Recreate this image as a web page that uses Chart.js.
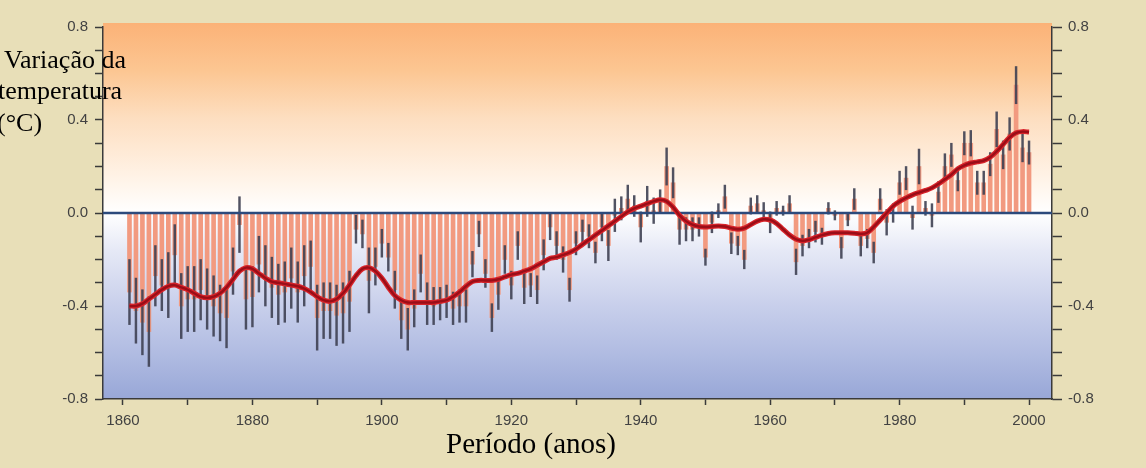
<!DOCTYPE html>
<html>
<head>
<meta charset="utf-8">
<script src="https://cdn.jsdelivr.net/npm/chart.js@4.4.0/dist/chart.umd.min.js"></script>
<style>
html,body{margin:0;padding:0;background:#e8dfb8;}
#wrap{position:relative;width:1146px;height:468px;}
</style>
</head>
<body>
<div id="wrap"><canvas id="c" width="1146" height="468"></canvas></div>
<script>
// ---------- DATA ----------
const years = [
 1861,1862,1863,1864,1865,1866,1867,1868,1869,1870,
 1871,1872,1873,1874,1875,1876,1877,1878,1879,1880,
 1881,1882,1883,1884,1885,1886,1887,1888,1889,1890,
 1891,1892,1893,1894,1895,1896,1897,1898,1899,1900,
 1901,1902,1903,1904,1905,1906,1907,1908,1909,1910,
 1911,1912,1913,1914,1915,1916,1917,1918,1919,1920,
 1921,1922,1923,1924,1925,1926,1927,1928,1929,1930,
 1931,1932,1933,1934,1935,1936,1937,1938,1939,1940,
 1941,1942,1943,1944,1945,1946,1947,1948,1949,1950,
 1951,1952,1953,1954,1955,1956,1957,1958,1959,1960,
 1961,1962,1963,1964,1965,1966,1967,1968,1969,1970,
 1971,1972,1973,1974,1975,1976,1977,1978,1979,1980,
 1981,1982,1983,1984,1985,1986,1987,1988,1989,1990,
 1991,1992,1993,1994,1995,1996,1997,1998,1999,2000
];
const anomalies = [
 -0.34,-0.42,-0.47,-0.51,-0.27,-0.31,-0.31,-0.18,-0.40,-0.37,
 -0.37,-0.33,-0.37,-0.40,-0.43,-0.45,-0.25,-0.05,-0.37,-0.36,
 -0.22,-0.27,-0.32,-0.35,-0.34,-0.28,-0.34,-0.27,-0.23,-0.45,
 -0.42,-0.42,-0.44,-0.43,-0.38,-0.07,-0.09,-0.29,-0.23,-0.13,
 -0.19,-0.33,-0.46,-0.50,-0.41,-0.26,-0.39,-0.40,-0.39,-0.38,
 -0.41,-0.40,-0.40,-0.22,-0.09,-0.26,-0.45,-0.35,-0.20,-0.31,
 -0.14,-0.32,-0.31,-0.33,-0.18,-0.06,-0.14,-0.20,-0.33,-0.13,
 -0.08,-0.10,-0.17,-0.06,-0.14,-0.01,0.02,0.06,0.03,-0.06,
 0.05,0.01,0.05,0.20,0.13,-0.07,-0.07,-0.07,-0.06,-0.19,
 -0.04,0.01,0.07,-0.13,-0.14,-0.20,0.03,0.04,0.01,-0.04,
 0.02,0.01,0.04,-0.21,-0.14,-0.11,-0.08,-0.10,0.02,-0.01,
 -0.15,-0.03,0.06,-0.14,-0.11,-0.17,0.06,-0.04,0.00,0.13,
 0.15,-0.02,0.20,0.02,-0.01,0.09,0.20,0.25,0.14,0.30,
 0.30,0.13,0.13,0.21,0.36,0.25,0.34,0.55,0.28,0.26
];
const errors = [
 0.14,0.14,0.14,0.15,0.13,0.11,0.14,0.13,0.14,0.14,
 0.14,0.13,0.13,0.13,0.12,0.13,0.10,0.12,0.13,0.13,
 0.12,0.13,0.13,0.13,0.13,0.13,0.13,0.13,0.11,0.14,
 0.12,0.12,0.13,0.13,0.13,0.06,0.06,0.14,0.08,0.06,
 0.06,0.08,0.08,0.09,0.08,0.08,0.09,0.08,0.07,0.07,
 0.07,0.07,0.07,0.055,0.055,0.06,0.06,0.065,0.06,0.06,
 0.06,0.07,0.05,0.06,0.065,0.055,0.06,0.055,0.05,0.05,
 0.05,0.05,0.045,0.06,0.065,0.07,0.05,0.06,0.045,0.065,
 0.065,0.055,0.05,0.08,0.065,0.065,0.05,0.05,0.04,0.035,
 0.045,0.03,0.05,0.045,0.04,0.04,0.035,0.035,0.035,0.045,
 0.03,0.02,0.035,0.055,0.045,0.04,0.045,0.035,0.025,0.02,
 0.045,0.025,0.045,0.045,0.04,0.045,0.045,0.055,0.04,0.05,
 0.05,0.05,0.075,0.03,0.05,0.045,0.055,0.05,0.045,0.05,
 0.055,0.05,0.05,0.05,0.075,0.06,0.07,0.08,0.06,0.05
];
const smoothed = [
 -0.40,-0.40,-0.39,-0.37,-0.35,-0.33,-0.315,-0.31,-0.32,-0.33,
 -0.345,-0.36,-0.365,-0.36,-0.345,-0.32,-0.285,-0.25,-0.235,-0.24,
 -0.26,-0.28,-0.295,-0.30,-0.305,-0.31,-0.315,-0.325,-0.34,-0.36,
 -0.375,-0.38,-0.37,-0.345,-0.31,-0.27,-0.24,-0.235,-0.25,-0.28,
 -0.32,-0.355,-0.375,-0.385,-0.385,-0.385,-0.385,-0.385,-0.38,-0.375,
 -0.36,-0.34,-0.315,-0.295,-0.29,-0.29,-0.29,-0.285,-0.275,-0.265,
 -0.26,-0.25,-0.24,-0.225,-0.21,-0.195,-0.19,-0.18,-0.17,-0.155,
 -0.135,-0.115,-0.095,-0.075,-0.055,-0.035,-0.015,0.005,0.02,0.03,
 0.04,0.05,0.057,0.05,0.025,-0.01,-0.035,-0.05,-0.058,-0.06,
 -0.058,-0.056,-0.058,-0.065,-0.07,-0.065,-0.05,-0.035,-0.027,-0.03,
 -0.045,-0.07,-0.095,-0.113,-0.12,-0.115,-0.105,-0.095,-0.088,-0.085,
 -0.085,-0.085,-0.087,-0.09,-0.085,-0.06,-0.03,0.00,0.03,0.05,
 0.065,0.078,0.088,0.097,0.108,0.125,0.145,0.165,0.19,0.205,
 0.215,0.22,0.225,0.24,0.265,0.295,0.325,0.345,0.35,0.348
];
const xTickValues = [1860,1870,1880,1890,1900,1910,1920,1930,1940,1950,1960,1970,1980,1990,2000];
const xTickLabels = ['1860','','1880','','1900','','1920','','1940','','1960','','1980','','2000'];
const yTickValues = [-0.8,-0.7,-0.6,-0.5,-0.4,-0.3,-0.2,-0.1,0,0.1,0.2,0.3,0.4,0.5,0.6,0.7,0.8];
const yTickLabels = ['-0.8','','','','-0.4','','','','0.0','','','','0.4','','','','0.8'];
const yTitleLines = ['Variação da','temperatura','(°C)'];
const xTitle = 'Período (anos)';
const xRange = [1856.91, 2003.55];
const yRange = [-0.8, 0.8];

// ---------- BUILD ----------
const barPts = anomalies.map((v,i)=>({x:years[i], y:v}));
const errPts = anomalies.map((v,i)=>({x:years[i], y:[v-errors[i], v+errors[i]]}));
const smoothPts = smoothed.map((v,i)=>({x:years[i], y:v}));

const bgPlugin = {
  id:'bg',
  beforeDraw(chart){
    const {ctx, chartArea:a, scales} = chart;
    ctx.save();
    ctx.fillStyle = '#e8dfb8';
    ctx.fillRect(0,0,chart.width,chart.height);
    const y0 = scales.y.getPixelForValue(0);
    const top = a.top - 4;
    const g = ctx.createLinearGradient(0, top, 0, a.bottom);
    const f = (y0 - top)/(a.bottom - top);
    g.addColorStop(0, '#fbb277');
    g.addColorStop(f*0.25, '#fcc692');
    g.addColorStop(f*0.5, '#fddec0');
    g.addColorStop(f*0.8, '#fff2e5');
    g.addColorStop(f, '#ffffff');
    g.addColorStop(f+(1-f)*0.2, '#e6e9f6');
    g.addColorStop(f+(1-f)*0.5, '#c8cfeb');
    g.addColorStop(f+(1-f)*0.75, '#b1bce2');
    g.addColorStop(1, '#98a7d7');
    ctx.fillStyle = g;
    ctx.fillRect(a.left, top, a.right - a.left, a.bottom - top);
    ctx.restore();
  },
  afterDatasetDraw(chart, args){
    if (args.index !== 2) return;
    const {ctx, chartArea:a, scales} = chart;
    const y0 = scales.y.getPixelForValue(0);
    ctx.save();
    ctx.strokeStyle = '#2c4a7c';
    ctx.lineWidth = 2.5;
    ctx.beginPath();
    ctx.moveTo(a.left, y0);
    ctx.lineTo(a.right, y0);
    ctx.stroke();
    ctx.restore();
  },
  afterDraw(chart){
    const ctx = chart.ctx;
    ctx.save();
    ctx.fillStyle = '#000';
    ctx.textAlign = 'left';
    ctx.textBaseline = 'alphabetic';
    ctx.font = '26px "Liberation Serif"';
    ctx.fillText(yTitleLines[0], 4, 68);
    ctx.fillText(yTitleLines[1], -2, 99);
    ctx.fillText(yTitleLines[2], -3, 131);
    ctx.font = '29px "Liberation Serif"';
    ctx.textAlign = 'center';
    ctx.fillText(xTitle, 531, 453);
    ctx.restore();
  }
};

const tickFont = {family:'"Liberation Sans", Arial, sans-serif', size:15};
const tickColor = '#424242';
const lineColor = '#3a3a3a';

function yAxis(pos, width, tickLen, pad){
  return {
    type:'linear', position:pos, min:yRange[0], max:yRange[1],
    afterBuildTicks: s => { s.ticks = yTickValues.map(v=>({value:v})); },
    afterFit: s => { s.width = width; },
    ticks:{autoSkip:false, padding:pad, color:tickColor, font:tickFont,
           callback:(v,i)=>yTickLabels[i]},
    grid:{drawOnChartArea:false, drawTicks:true, tickLength:tickLen, tickColor:lineColor, tickWidth:1.5},
    border:{display:true, color:lineColor, width:1.5}
  };
}

new Chart(document.getElementById('c'), {
  type:'bar',
  data:{
    datasets:[
      {type:'line', data:smoothPts, borderColor:'#9a0e18', borderWidth:2.4, pointRadius:0, tension:0.35, order:0, yAxisID:'y'},
      {type:'line', data:smoothPts, borderColor:'#d8232a', borderWidth:5, pointRadius:0, tension:0.35, order:1, yAxisID:'y'},
      {type:'bar', data:errPts, backgroundColor:'rgba(62,64,82,0.9)', barThickness:1.8, grouped:false, order:3, yAxisID:'y'},
      {type:'bar', data:barPts, backgroundColor:'#f29a80', barThickness:4, grouped:false, order:4, yAxisID:'y'}
    ]
  },
  options:{
    responsive:false, animation:false,
    layout:{padding:{top:27, left:0, right:0, bottom:0}},
    plugins:{legend:{display:false}, tooltip:{enabled:false}},
    scales:{
      x:{
        type:'linear', position:'bottom', min:xRange[0], max:xRange[1], offset:false,
        afterBuildTicks: s => { s.ticks = xTickValues.map(v=>({value:v})); },
        afterFit: s => { s.height = 69; },
        ticks:{autoSkip:false, maxRotation:0, padding:7, color:tickColor, font:tickFont,
               callback:(v,i)=>xTickLabels[i]},
        grid:{offset:false, drawOnChartArea:false, drawTicks:true, tickLength:6, tickColor:lineColor, tickWidth:1.5},
        border:{display:true, color:lineColor, width:1.5}
      },
      y: yAxis('left', 103, 8, 7),
      y2: yAxis('right', 94, 10, 6)
    }
  },
  plugins:[bgPlugin]
});
</script>
</body>
</html>
